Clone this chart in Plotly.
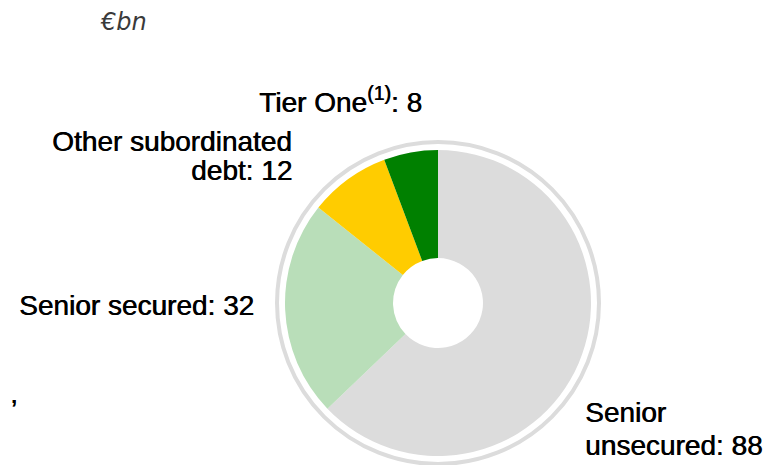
import plotly.graph_objects as go

labels = ["Senior unsecured", "Senior secured", "Other subordinated debt", "Tier One"]
values = [88, 32, 12, 8]
colors = ["#DCDCDC", "#B9DEB9", "#FFCC00", "#008000"]
unit_label = "€bn"

# The page body adds an 8px margin, so the figure is 8px smaller and
# all positions below are given in page pixels and shifted by OFF.
OFF = 8
W, H = 774 - OFF, 465 - OFF


def px(x):
    return (x - OFF) / W


def py(y):
    return 1 - (y - OFF) / H


fig = go.Figure(
    go.Pie(
        labels=labels,
        values=values,
        hole=0.294,
        sort=False,
        direction="clockwise",
        rotation=0,
        marker=dict(colors=colors, line=dict(width=0)),
        textinfo="none",
        hoverinfo="label+value",
        domain=dict(x=[px(285), px(591)], y=[py(456), py(150)]),
        showlegend=False,
    )
)

cx, cy, rr = 438, 303, 161
fig.add_shape(
    type="circle", xref="paper", yref="paper",
    x0=px(cx - rr), x1=px(cx + rr), y0=py(cy + rr), y1=py(cy - rr),
    line=dict(color="#DCDCDC", width=4), layer="below",
)

font = dict(family="Liberation Sans, Arial, sans-serif", size=28, color="#000000",
            shadow="0.6px 0 0 #000000")


def ann(text, x, y, xanchor):
    fig.add_annotation(text=text, x=px(x), y=py(y), xref="paper", yref="paper",
                       xanchor=xanchor, yanchor="middle", showarrow=False, font=font)


sub_words = labels[2].split(" ")
uns_words = labels[0].split(" ")
ann(f"{labels[3]}<sup>(1)</sup>: {values[3]}", 340, 100, "center")
ann(" ".join(sub_words[:2]), 294, 141, "right")
ann(f"{sub_words[2]}: {values[2]}", 294, 171, "right")
ann(f"{labels[1]}: {values[1]}", 256, 305, "right")
ann(uns_words[0], 583, 412, "left")
ann(f"{uns_words[1]}: {values[0]}", 583, 445, "left")
ann(",", 8, 393, "left")

fig.add_annotation(text=f"<i>{unit_label}</i>", x=px(123), y=py(22), xref="paper", yref="paper",
                   xanchor="center", yanchor="middle", showarrow=False,
                   font=dict(family="DejaVu Sans, sans-serif", size=24, color="#3A3A3A"))

fig.update_layout(
    width=W, height=H,
    margin=dict(l=0, r=0, t=0, b=0),
    paper_bgcolor="white", plot_bgcolor="white",
)

fig.write_html("out.html")
